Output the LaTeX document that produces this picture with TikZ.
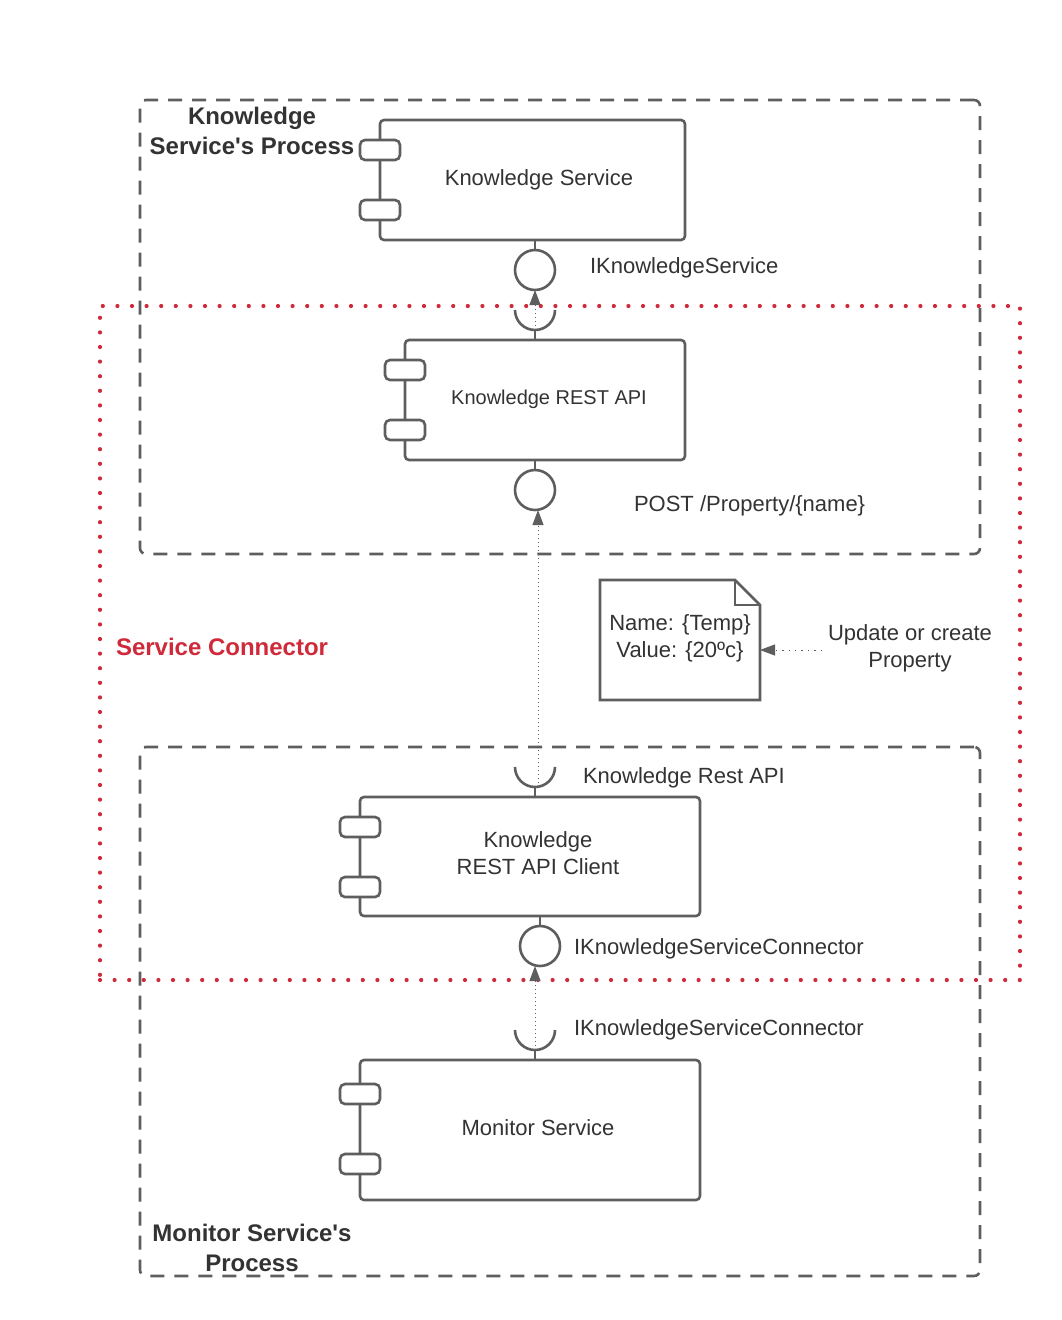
\documentclass[tikz,border=0pt]{standalone}
\usepackage{fontspec}
\setmainfont{Liberation Sans}
\usetikzlibrary{arrows.meta,calc}
\definecolor{lc}{HTML}{5E5E5E}
\definecolor{tc}{HTML}{333333}
\definecolor{rc}{HTML}{D02A3A}
\begin{document}
\begin{tikzpicture}[x=1pt,y=-1pt,
 every node/.style={inner sep=0pt, outer sep=0pt},
 txt/.style={font=\fontsize{22}{27}\selectfont, text=tc, align=center},
 ttl/.style={font=\fontsize{24}{29.5}\selectfont\bfseries, text=tc, align=center},
 comp/.style={draw=lc, line width=2.6pt, rounded corners=4pt, fill=white, anchor=north west},
 tabbox/.style={draw=lc, line width=2.6pt, rounded corners=5pt, fill=white, minimum width=40pt, minimum height=20pt},
 proc/.style={draw=lc, line width=2.6pt, dash pattern=on 14pt off 10pt, rounded corners=6pt, anchor=north west},
 conn/.style={draw=rc, line width=4.2pt, line cap=round, dash pattern=on 0pt off 14.6pt, anchor=north west},
 iface/.style={circle, draw=lc, line width=2.6pt, fill=white, minimum size=40pt},
 stub/.style={draw=lc, line width=2.6pt},
 dep/.style={draw=lc, line width=1pt, dash pattern=on 1.4pt off 2.6pt, -{Triangle[width=11pt,length=15pt]}},
 dep2/.style={draw=lc, line width=1pt, dash pattern=on 1.4pt off 5pt, -{Triangle[width=11pt,length=15pt]}},
]
\useasboundingbox[fill=white] (0,0) rectangle (1062,1320);

% process groups
\node[proc, minimum width=840pt, minimum height=454pt] (kproc) at (140,100) {};
\node[proc, minimum width=840pt, minimum height=529pt] (mproc) at (140,747) {};
\node[conn, minimum width=920pt, minimum height=674pt] (sconn) at (100,306) {};

% components
\node[comp, minimum width=305pt, minimum height=120pt,
  label={[txt, xshift=6.5pt]center:Knowledge Service}] (ks) at (380,120) {};
\node[tabbox] (kst1) at ($(ks.north west)+(0,30)$) {};
\node[tabbox] (kst2) at ($(ks.north west)+(0,90)$) {};

\node[comp, minimum width=280pt, minimum height=120pt,
  label={[txt, font=\fontsize{20}{24}\selectfont, xshift=4pt, yshift=1pt]center:Knowledge REST API}] (rest) at (405,340) {};
\node[tabbox] (rt1) at ($(rest.north west)+(0,30)$) {};
\node[tabbox] (rt2) at ($(rest.north west)+(0,90)$) {};

\node[comp, minimum width=340pt, minimum height=119pt,
  label={[txt, xshift=8pt, yshift=3pt]center:Knowledge\\REST API Client}] (cli) at (360,797) {};
\node[tabbox] (ct1) at ($(cli.north west)+(0,30)$) {};
\node[tabbox] (ct2) at ($(cli.north west)+(0,90)$) {};

\node[comp, minimum width=340pt, minimum height=140pt,
  label={[txt, xshift=8pt, yshift=2pt]center:Monitor Service}] (mon) at (360,1060) {};
\node[tabbox] (mt1) at ($(mon.north west)+(0,34)$) {};
\node[tabbox] (mt2) at ($(mon.north west)+(0,104)$) {};

% provided interfaces (lollipops)
\node[iface] (i1) at (535,270) {};
\draw[stub] (ks.south -| i1) -- (i1.north);
\node[iface] (i2) at (535,490) {};
\draw[stub] (rest.south -| i2) -- (i2.north);
\node[iface] (i3) at (540,946) {};
\draw[stub] (cli.south -| i3) -- (i3.north);

% required interfaces (sockets)
\coordinate (s1) at (535,330);
\draw[stub] (515,310) .. controls (515,321.05) and (523.95,330) .. (s1) .. controls (546.05,330) and (555,321.05) .. (555,310);
\draw[stub] (s1) -- (rest.north -| s1);
\coordinate (s2) at (535,787);
\draw[stub] (515,767) .. controls (515,778.05) and (523.95,787) .. (s2) .. controls (546.05,787) and (555,778.05) .. (555,767);
\draw[stub] (s2) -- (cli.north -| s2);
\coordinate (s3) at (535,1050);
\draw[stub] (515,1030) .. controls (515,1041.05) and (523.95,1050) .. (s3) .. controls (546.05,1050) and (555,1041.05) .. (555,1030);
\draw[stub] (s3) -- (mon.north -| s3);

% dependencies
\draw[dep] (s1) -- (i1.south);
\coordinate (d2) at (538,787);
\draw[dep] (d2) -- (i2.south -| d2);
\draw[dep] (s3) -- (i3.south -| s3);

% labels
\node[txt, anchor=west] (l1) at (590,268) {IKnowledgeService};
\node[txt, anchor=west] (l2) at (634,506) {POST /Property/\{name\}};
\node[txt, anchor=west] (l3) at (583,778) {Knowledge Rest API};
\node[txt, anchor=west] (l4) at (574,949) {IKnowledgeServiceConnector};
\node[txt, anchor=west] (l5) at (574,1030) {IKnowledgeServiceConnector};

% note
\node[minimum width=160pt, minimum height=120pt] (note) at (680,640) {};
\draw[stub, line join=miter] (note.north west) -- ($(note.north east)+(-25,0)$) -- ($(note.north east)+(0,25)$) -- (note.south east) -- (note.south west) -- cycle;
\draw[stub, line join=miter] ($(note.north east)+(-25,0)$) -- ($(note.north east)+(-25,25)$) -- ($(note.north east)+(0,25)$);
\node[txt] (notetxt) at (680,638) {Name: \{Temp\}\\Value: \{20ºc\}};
\node[txt] (upd) at (910,648) {Update or create\\Property};
\coordinate (ua) at (822,650);
\draw[dep2] (ua) -- (note.east |- ua);

% titles
\node[ttl] (kt) at (252,131) {Knowledge\\Service\textquotesingle s Process};
\node[ttl] (mtl) at (252,1248) {Monitor Service\textquotesingle s\\Process};
\node[ttl, text=rc, anchor=west] (sc) at (116,647) {Service Connector};
\end{tikzpicture}
\end{document}
